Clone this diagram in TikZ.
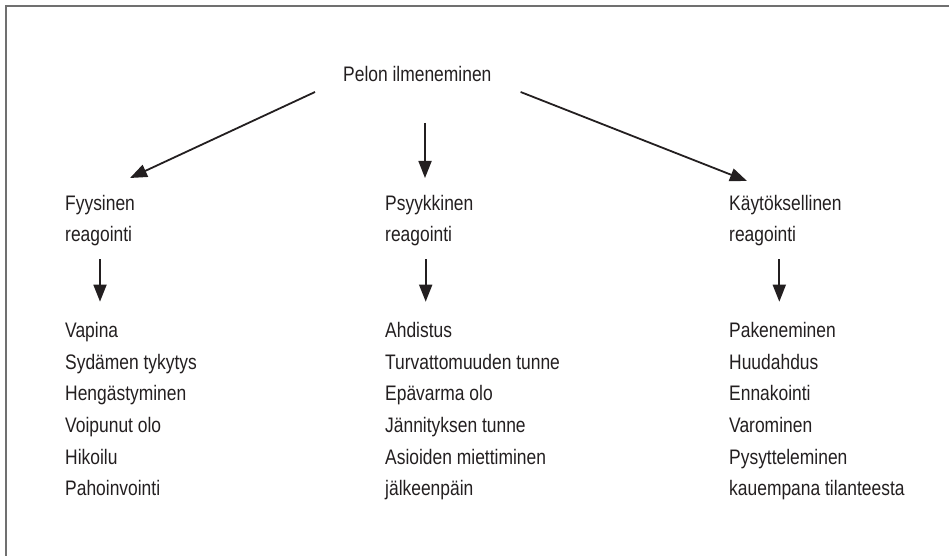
\documentclass[tikz,border=0pt]{standalone}
\usepackage{fontspec}
\setmainfont[FakeStretch=0.83]{Liberation Sans}
\usetikzlibrary{arrows.meta,calc}
\definecolor{ink}{RGB}{35,31,32}
\definecolor{framegray}{RGB}{112,112,112}
\begin{document}
\begin{tikzpicture}[x=1pt,y=-1pt,
  lbl/.style={inner sep=0pt,anchor=base west,text=ink,font=\fontsize{21}{31.6}\selectfont},
  arr/.style={draw=ink,line width=1.8pt,-{Triangle[length=17pt,width=13pt]}},
  framestroke/.style={draw=framegray,line width=1.6pt}]
\useasboundingbox (0,0) rectangle (949,556);
% open frame: left and top edges only
\draw[framestroke] (6,556) -- (6,6) -- (949,6);

% root
\node[lbl] (top) at (343,82) {Pelon ilmeneminen};

% branch headings
\node[lbl] (fyA) at (65,210) {Fyysinen};
\node[lbl] (fyB) at (65,241) {reagointi};
\node[lbl] (psA) at (385,210) {Psyykkinen};
\node[lbl] (psB) at (385,241) {reagointi};
\node[lbl] (kaA) at (729,210) {Käytöksellinen};
\node[lbl] (kaB) at (729,241) {reagointi};

% lists
\foreach \t [count=\i] in {Vapina,Sydämen tykytys,Hengästyminen,Voipunut olo,Hikoilu,Pahoinvointi}
  \node[lbl] (fy\i) at (65,{337.7+31.6*(\i-1)}) {\t};
\foreach \t [count=\i] in {Ahdistus,Turvattomuuden tunne,Epävarma olo,Jännityksen tunne,Asioiden miettiminen,jälkeenpäin}
  \node[lbl] (ps\i) at (385,{337.7+31.6*(\i-1)}) {\t};
\foreach \t [count=\i] in {Pakeneminen,Huudahdus,Ennakointi,Varominen,Pysytteleminen,kauempana tilanteesta}
  \node[lbl] (ka\i) at (729,{337.7+31.6*(\i-1)}) {\t};

% connectors from the root
\coordinate (sL) at ($(top.base west)+(-28,10)$);
\coordinate (sM) at ($(top.base west)+(82,41)$);
\coordinate (sR) at ($(top.base east)+(29,10)$);
\coordinate (tL) at ($(fyA.base west)+(65,-32)$);
\coordinate (tM) at ($(psA.base west)+(40,-32)$);
\coordinate (tR) at ($(kaA.base west)+(18,-29)$);
\draw[arr] (sL) -- (tL);
\draw[arr] (sM) -- (tM);
\draw[arr] (sR) -- (tR);

% connectors from headings to lists
\draw[arr] ($(fyB.base west)+(35,18)$) -- ($(fy1.base west)+(35,-36)$);
\draw[arr] ($(psB.base west)+(40.7,18)$) -- ($(ps1.base west)+(40.7,-36)$);
\draw[arr] ($(kaB.base west)+(50.3,18)$) -- ($(ka1.base west)+(50.3,-36)$);
\end{tikzpicture}
\end{document}
